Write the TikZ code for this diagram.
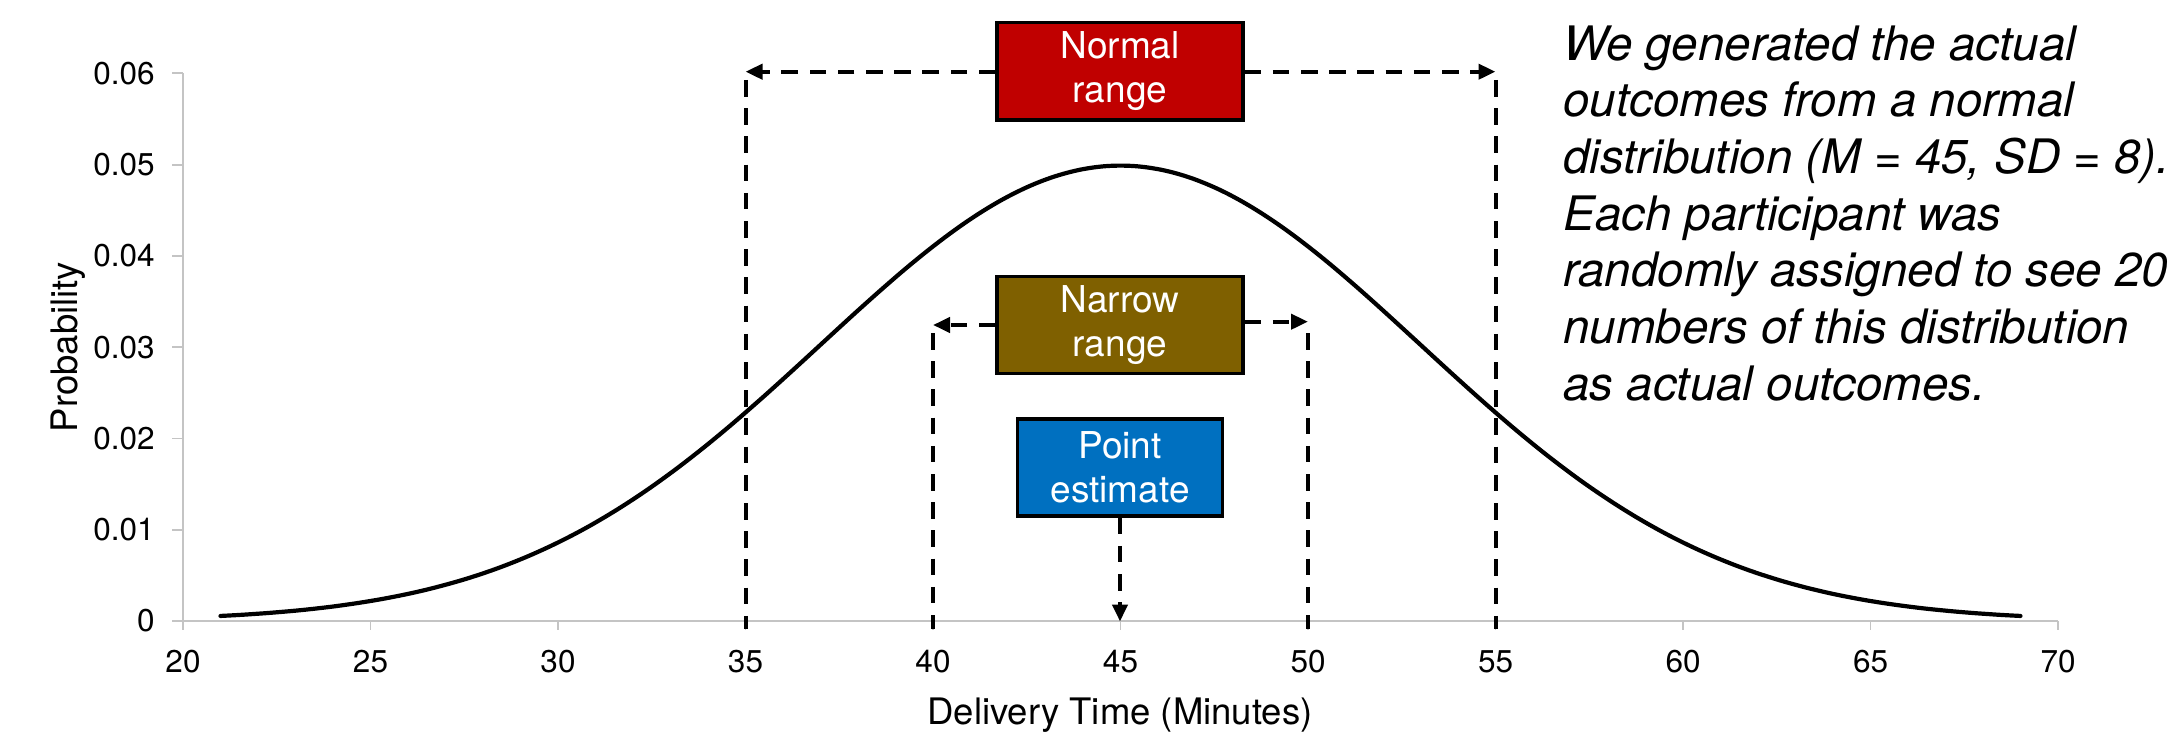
\documentclass[tikz,border=0pt]{standalone}
\usepackage{fontspec}
\setmainfont{TeX Gyre Heros}
\usetikzlibrary{arrows.meta}
\definecolor{boxred}{HTML}{C00000}
\definecolor{boxolive}{HTML}{7F6000}
\definecolor{boxblue}{HTML}{0070C0}
\definecolor{axisgray}{HTML}{C4C4C4}
\begin{document}
\begin{tikzpicture}[x=0.5pt,y=-0.5pt,
  labelbox/.style={draw=black, line width=1.6pt, text=white, align=center, inner sep=0pt,
    minimum width=123pt, minimum height=48.8pt, font=\fontsize{18.5}{22}\selectfont},
  dashline/.style={line width=2pt, dash pattern=on 8.3pt off 5.8pt},
  arrowline/.style={dashline, -{Triangle[length=8.5pt,width=7.5pt]}},
  axisline/.style={draw=axisgray, line width=0.9pt},
  ticklabel/.style={font=\fontsize{15.75}{18}\selectfont, inner sep=0pt},
  titlelabel/.style={font=\fontsize{18.25}{22}\selectfont, inner sep=0pt},
  curve/.style={line width=2.1pt, line cap=round}]
\useasboundingbox (0,0) rectangle (2180,733);
% axes
\draw[axisline] (183,73.4) -- (183,621);
\draw[axisline] (183,621) -- (2058,621);
\foreach \k/\lab in {0/0,1/0.01,2/0.02,3/0.03,4/0.04,5/0.05,6/0.06}{
  \draw[axisline] (172,{621-\k*91.27}) -- (183,{621-\k*91.27});
  \node[ticklabel, anchor=east] (yl\k) at (155,{621-\k*91.27}) {\lab};
}
\foreach \k in {0,...,10}{
  \draw[axisline] ({183+\k*187.5},621) -- ({183+\k*187.5},630);
  \pgfmathtruncatemacro{\v}{20+5*\k}
  \node[ticklabel] (xl\k) at ({183+\k*187.5},661.5) {\v};
}
\node[titlelabel, anchor=base] (xtitle) at (1120,724) {Delivery Time (Minutes)};
\node[titlelabel, anchor=base, rotate=90] (ytitle) at (77.6,347) {Probability};
% curve
\draw[curve] plot[domain=21:69, samples=160, smooth]
  ({183+(\x-20)*37.5}, {621-455.3*exp(0-(\x-45)*(\x-45)/128)});
% boxes
\node[labelbox, fill=boxred] (normal) at (1120,71.3) {Normal\\range};
\node[labelbox, fill=boxolive] (narrow) at (1120,325) {Narrow\\range};
\node[labelbox, fill=boxblue, minimum width=102.5pt, minimum height=48.5pt] (point) at (1120,467.5) {Point\\estimate};
% coordinates
\coordinate (nl) at (745.5,71.7);
\coordinate (nlt) at (745.5,80);
\coordinate (nlb) at (745.5,629);
\coordinate (nr) at (1495.5,71.7);
\coordinate (nrt) at (1495.5,80);
\coordinate (nrb) at (1495.5,629);
\coordinate (wl) at (933,325);
\coordinate (wlt) at (933,333);
\coordinate (wlb) at (933,629);
\coordinate (wr) at (1308,321.7);
\coordinate (wrt) at (1308,333);
\coordinate (wrb) at (1308,629);
\coordinate (pt) at (1120,621.5);
% connectors
\draw[arrowline] (normal.west |- nl) -- (nl);
\draw[arrowline] (normal.east |- nr) -- (nr);
\draw[dashline] (nlt) -- (nlb);
\draw[dashline] (nrt) -- (nrb);
\draw[arrowline] (narrow.west |- wl) -- (wl);
\draw[arrowline] (narrow.east |- wr) -- (wr);
\draw[dashline] (wlt) -- (wlb);
\draw[dashline] (wrt) -- (wrb);
\draw[arrowline] (point.south) -- (pt);
% note
\node[anchor=north west, inner sep=0pt, align=left,
  font=\fontsize{23.75}{28.35}\selectfont\itshape] (note) at (1563,25)
  {We generated the actual\\outcomes from a normal\\distribution (M = 45, SD = 8).\\Each participant was\\randomly assigned to see 20\\numbers of this distribution\\as actual outcomes.};
\end{tikzpicture}
\end{document}
